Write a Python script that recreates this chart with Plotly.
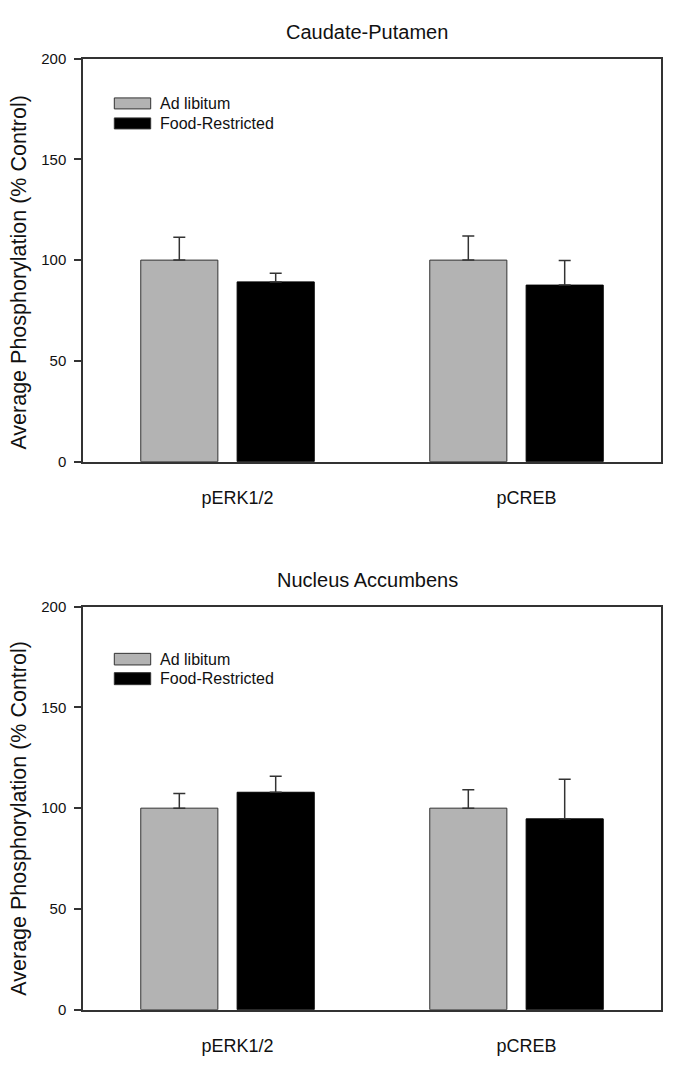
import plotly.graph_objects as go

W, H = 685, 1068

categories = ["pERK1/2", "pCREB"]
series_names = ["Ad libitum", "Food-Restricted"]

cp_adlib = [100, 100]
cp_adlib_err = [11.4, 12.0]
cp_fr = [89.2, 87.6]
cp_fr_err = [4.3, 12.2]

nac_adlib = [100, 100]
nac_adlib_err = [7.3, 9.1]
nac_fr = [107.9, 94.7]
nac_fr_err = [8.0, 19.7]

titles = ["Caudate-Putamen", "Nucleus Accumbens"]
y_title = "Average Phosphorylation (% Control)"
y_ticks = [0, 50, 100, 150, 200]

FONT = "Arial, Liberation Sans, sans-serif"
GRAY = "#b3b3b3"
EDGE = "#333333"

# the photographed page maps figure y-pixels as: shown = 0.984 * y + 8.4
def cy(p):
    return (p - 8.4) / 0.984

def px_x(p):
    return p / W

def px_y(p):
    return 1 - cy(p) / H

fig = go.Figure()

panels = [
    ("x", "y", cp_adlib, cp_adlib_err, cp_fr, cp_fr_err),
    ("x2", "y2", nac_adlib, nac_adlib_err, nac_fr, nac_fr_err),
]
for xa, ya, a, ae, f, fe in panels:
    fig.add_trace(go.Bar(
        x=categories, y=a, name=series_names[0], xaxis=xa, yaxis=ya,
        marker=dict(color=GRAY, line=dict(color=EDGE, width=1)),
        error_y=dict(type="data", array=ae, symmetric=False, arrayminus=[0, 0],
                     color=EDGE, thickness=1.5, width=6),
        showlegend=False,
    ))
    fig.add_trace(go.Bar(
        x=categories, y=f, name=series_names[1], xaxis=xa, yaxis=ya,
        marker=dict(color="#000000", line=dict(color="#000000", width=1)),
        error_y=dict(type="data", array=fe, symmetric=False, arrayminus=[0, 0],
                     color=EDGE, thickness=1.5, width=6),
        showlegend=False,
    ))

xdom = [px_x(83), px_x(661)]
plot_tops = [58, 606]
plot_bots = [461, 1009]

common_x = dict(
    domain=xdom, showline=True, linecolor=EDGE, linewidth=1.5, mirror=True,
    ticks="", showgrid=False, zeroline=False,
    tickfont=dict(family=FONT, size=18, color="#111"),
    ticklabelshift=10, ticklabelstandoff=19,
)
common_y = dict(
    range=[0, 200], tickvals=y_ticks, showline=True, linecolor=EDGE, linewidth=1.5,
    mirror=True, ticks="outside", ticklen=7, tickwidth=1.5, tickcolor=EDGE,
    showgrid=False, zeroline=False,
    tickfont=dict(family=FONT, size=15, color="#111"),
    ticklabelstandoff=5,
)

fig.update_layout(
    width=W, height=H,
    margin=dict(l=0, r=0, t=0, b=0),
    paper_bgcolor="white", plot_bgcolor="white",
    barmode="group", bargap=0.333, bargroupgap=0.2,
    xaxis=dict(common_x, anchor="y"),
    yaxis=dict(common_y, domain=[px_y(plot_bots[0]), px_y(plot_tops[0])], anchor="x"),
    xaxis2=dict(common_x, anchor="y2"),
    yaxis2=dict(common_y, domain=[px_y(plot_bots[1]), px_y(plot_tops[1])], anchor="x2"),
)

annotations = []
shapes = []
title_y = [31.7, 579]
ytitle_y = [272, 818]
legend_rows = [[(97.3, 108.3), (117.3, 128.3)], [(652.7, 664.3), (672.0, 684.0)]]
colors = [GRAY, "#000000"]
for i in range(2):
    annotations.append(dict(
        text=titles[i], x=px_x(367), y=px_y(title_y[i]), xref="paper", yref="paper",
        xanchor="center", yanchor="middle", showarrow=False,
        font=dict(family=FONT, size=20, color="#111"),
    ))
    annotations.append(dict(
        text=y_title, x=px_x(19), y=px_y(ytitle_y[i]), xref="paper", yref="paper",
        xanchor="center", yanchor="middle", showarrow=False, textangle=-90,
        font=dict(family=FONT, size=21.5, color="#111"),
    ))
    for j, (y0, y1) in enumerate(legend_rows[i]):
        shapes.append(dict(
            type="rect", xref="paper", yref="paper",
            x0=px_x(114.3), x1=px_x(150.7), y0=px_y(y1), y1=px_y(y0),
            fillcolor=colors[j], line=dict(color=EDGE, width=1),
        ))
        annotations.append(dict(
            text=series_names[j], x=px_x(158), y=px_y((y0 + y1) / 2),
            xref="paper", yref="paper", xanchor="left", yanchor="middle",
            showarrow=False, font=dict(family=FONT, size=16, color="#111"),
        ))

fig.update_layout(annotations=annotations, shapes=shapes)
fig.write_html(
    "out.html",
    config={"displayModeBar": False},
    post_script="document.body.style.margin='0';document.body.style.overflow='hidden';",
)
